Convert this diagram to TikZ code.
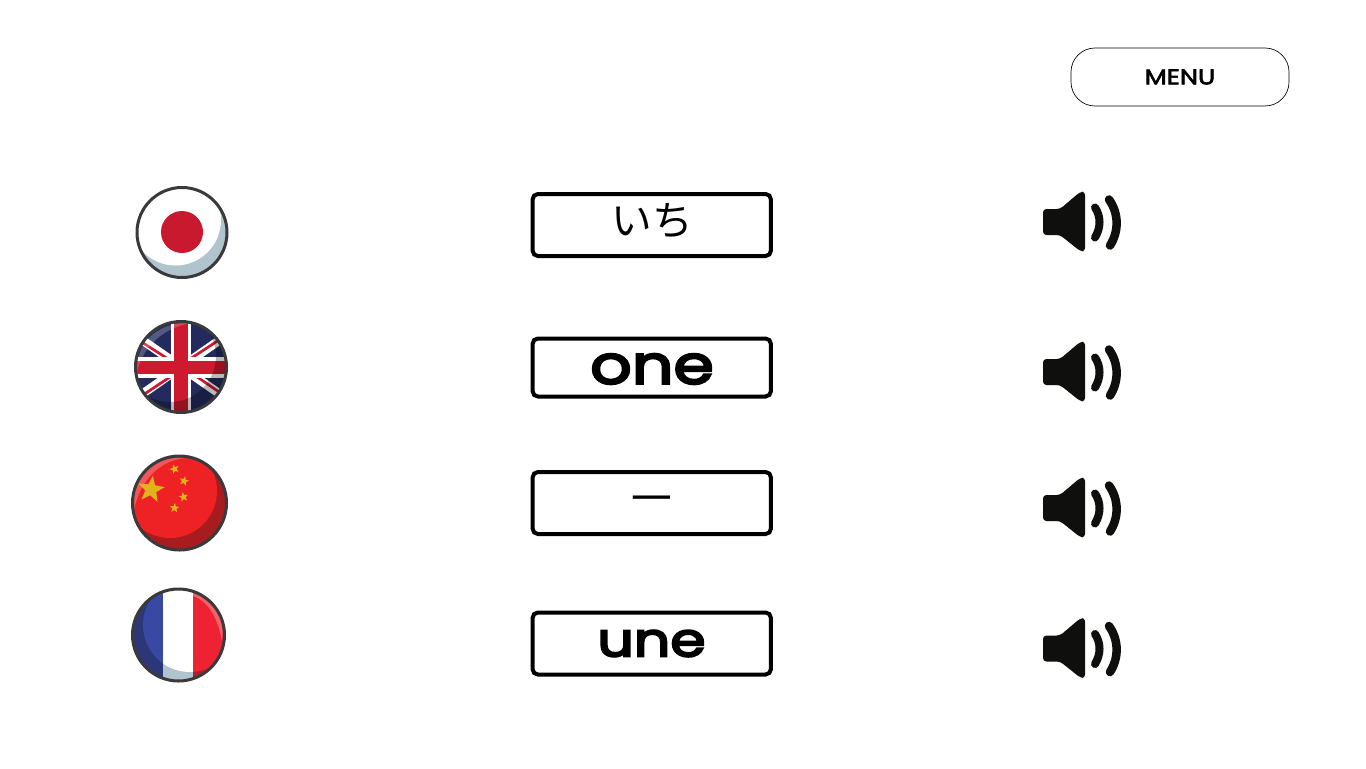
\documentclass[tikz,border=0pt]{standalone}
\usepackage{fontspec}
\usetikzlibrary{shapes.geometric}
\setmainfont{Poppins}
\newfontfamily\widefont[FakeStretch=1.22,FakeBold=4.5]{Poppins}
\newfontfamily\menufont[FakeStretch=1.2,FakeBold=3]{Poppins}
\newfontfamily\cjkfont{Noto Sans CJK JP}
\definecolor{rimc}{HTML}{3A3A3C}
\definecolor{greyc}{HTML}{B0C4CE}
\definecolor{jpred}{HTML}{C8192F}
\definecolor{ukblue}{HTML}{232B5E}
\definecolor{ukred}{HTML}{CE1A2E}
\definecolor{cnred}{HTML}{EE2224}
\definecolor{cndark}{HTML}{A81C1F}
\definecolor{cnlight}{HTML}{F0595B}
\definecolor{cnstar}{HTML}{E0B31B}
\definecolor{frblue}{HTML}{3949A3}
\definecolor{frdark}{HTML}{2C3779}
\definecolor{frred}{HTML}{EF2233}
\definecolor{frdarkred}{HTML}{B01F2B}
\definecolor{frlight}{HTML}{F2606A}
\definecolor{spk}{HTML}{0F0F0D}
\tikzset{
  x=0.75pt,y=-0.75pt,
  wordbox/.style={draw=black,line width=3pt,rounded corners=4pt,fill=white,minimum width=178.75pt,inner sep=0pt},
  menubox/.style={draw=black,line width=0.5pt,rounded corners=18pt,fill=white,minimum width=163.5pt,minimum height=43.5pt,inner sep=0pt},
  rim/.style={draw=rimc,line width=2.25pt},
  wordtext/.style={inner sep=0pt,font=\widefont\fontsize{40}{40}\selectfont},
  jptext/.style={inner sep=0pt,font=\cjkfont\fontsize{30.5}{30.5}\selectfont},
  smallstar/.style={star,star points=5,star point ratio=2.4,fill=cnstar,inner sep=0pt,minimum size=7.5pt},
  speaker/.pic={
    \fill[spk,rounded corners=2.5pt] (1043,-12.5) -- (1060,-12.5) -- (1080,-29.5) -- (1085,-30) -- (1085,30) -- (1080,29.5) -- (1060,13.5) -- (1043,13.5) -- cycle;
    \draw[spk,line width=6pt,line cap=round] (1095,-14) .. controls (1101,-5) and (1101,6) .. (1095,16);
    \draw[spk,line width=6.4pt,line cap=round] (1109,-22) .. controls (1119,-8) and (1119,10) .. (1110,24);
  }
}
\begin{document}
\begin{tikzpicture}
\useasboundingbox (0,0) rectangle (1366,768);
\fill[white] (0,0) rectangle (1366,768);

% menu
\node[menubox] (menu) at (1180,77) {};
\node[inner sep=0pt,font=\menufont\fontsize{16}{16}\selectfont] (menutext) at (1180,77) {MENU};

% word boxes
\node[wordbox,minimum height=46.5pt] (box1) at (651.75,225) {};
\node[wordbox,minimum height=43.5pt] (box2) at (651.75,367.5) {};
\node[wordbox,minimum height=46.5pt] (box3) at (651.75,503) {};
\node[wordbox,minimum height=46.5pt] (box4) at (651.75,643.5) {};
\node[jptext] (word1) at (652,221) {いち};
\node[wordtext] (word2) at (652,369) {one};
\node[jptext] (word3) at (652,505) {一};
\node[wordtext,font=\widefont\fontsize{35}{35}\selectfont] (word4) at (651.5,643.5) {une};

% speakers
\pic at (0,221.5) {speaker};
\pic at (0,371.5) {speaker};
\pic at (0,507.5) {speaker};
\pic at (0,648) {speaker};

% Japan
\begin{scope}
\clip (182,232.5) circle[radius=45];
\fill[greyc] (182,232.5) circle[radius=45];
\fill[white] (175.5,220) circle[radius=45.5];
\fill[jpred] (182,232) circle[radius=21];
\end{scope}
\draw[rim] (182,232.5) circle[radius=45];

% UK
\begin{scope}
\clip (181,367) circle[radius=45.5];
\fill[ukblue] (181,367) circle[radius=46];
\draw[white,line width=6.5pt] (135,335) -- (227,399);
\draw[white,line width=6.5pt] (135,399) -- (227,335);
\draw[ukred,line width=2pt] (140,341) -- (176,364);
\draw[ukred,line width=2pt] (187,361) -- (222,338);
\draw[ukred,line width=2pt] (140,397) -- (176,373);
\draw[ukred,line width=2pt] (187,370) -- (222,394);
\fill[white] (171,320) rectangle (191,414);
\fill[white] (134,357) rectangle (228,378);
\fill[ukred] (174,320) rectangle (188,414);
\fill[ukred] (134,361) rectangle (228,374);
\fill[black,opacity=.28,even odd rule] (181,367) circle[radius=47] (170,356) circle[radius=46];
\fill[white,opacity=.22] (137,372) .. controls (136,340) and (160,322) .. (190,323) .. controls (165,328) and (143,345) .. (137,372) -- cycle;
\end{scope}
\draw[rim] (181,367) circle[radius=45.5];

% China
\begin{scope}
\clip (179.5,503) circle[radius=47];
\fill[cndark] (179.5,503) circle[radius=48];
\fill[cnred] (170,491) circle[radius=47];
\fill[cnlight] (134,510) .. controls (130,475) and (155,455) .. (186,458) .. controls (160,460) and (140,480) .. (134,510) -- cycle;
\end{scope}
\draw[rim] (179.5,503) circle[radius=47];
\node[smallstar,minimum size=21pt,rotate=-8] (bigstar) at (151,489.5) {};
\node[smallstar,rotate=20] (star1) at (174.5,469) {};
\node[smallstar,rotate=-15] (star2) at (184,481) {};
\node[smallstar,rotate=10] (star3) at (183.5,497) {};
\node[smallstar,rotate=-5] (star4) at (174.5,508) {};

% France
\begin{scope}
\clip (178.5,635) circle[radius=46];
\fill[frdark] (131,587) rectangle (163,683);
\fill[greyc] (163,587) rectangle (193,683);
\fill[frdarkred] (193,587) rectangle (226,683);
\begin{scope}
\clip (190,625) circle[radius=47];
\fill[frblue] (131,577) rectangle (163,683);
\fill[white] (163,577) rectangle (193,683);
\fill[frred] (193,577) rectangle (240,683);
\end{scope}
\fill[frlight] (193,589) .. controls (212,591) and (226,612) .. (222,641) .. controls (218,618) and (208,601) .. (193,596) -- cycle;
\end{scope}
\draw[rim] (178.5,635) circle[radius=46];
\end{tikzpicture}
\end{document}
